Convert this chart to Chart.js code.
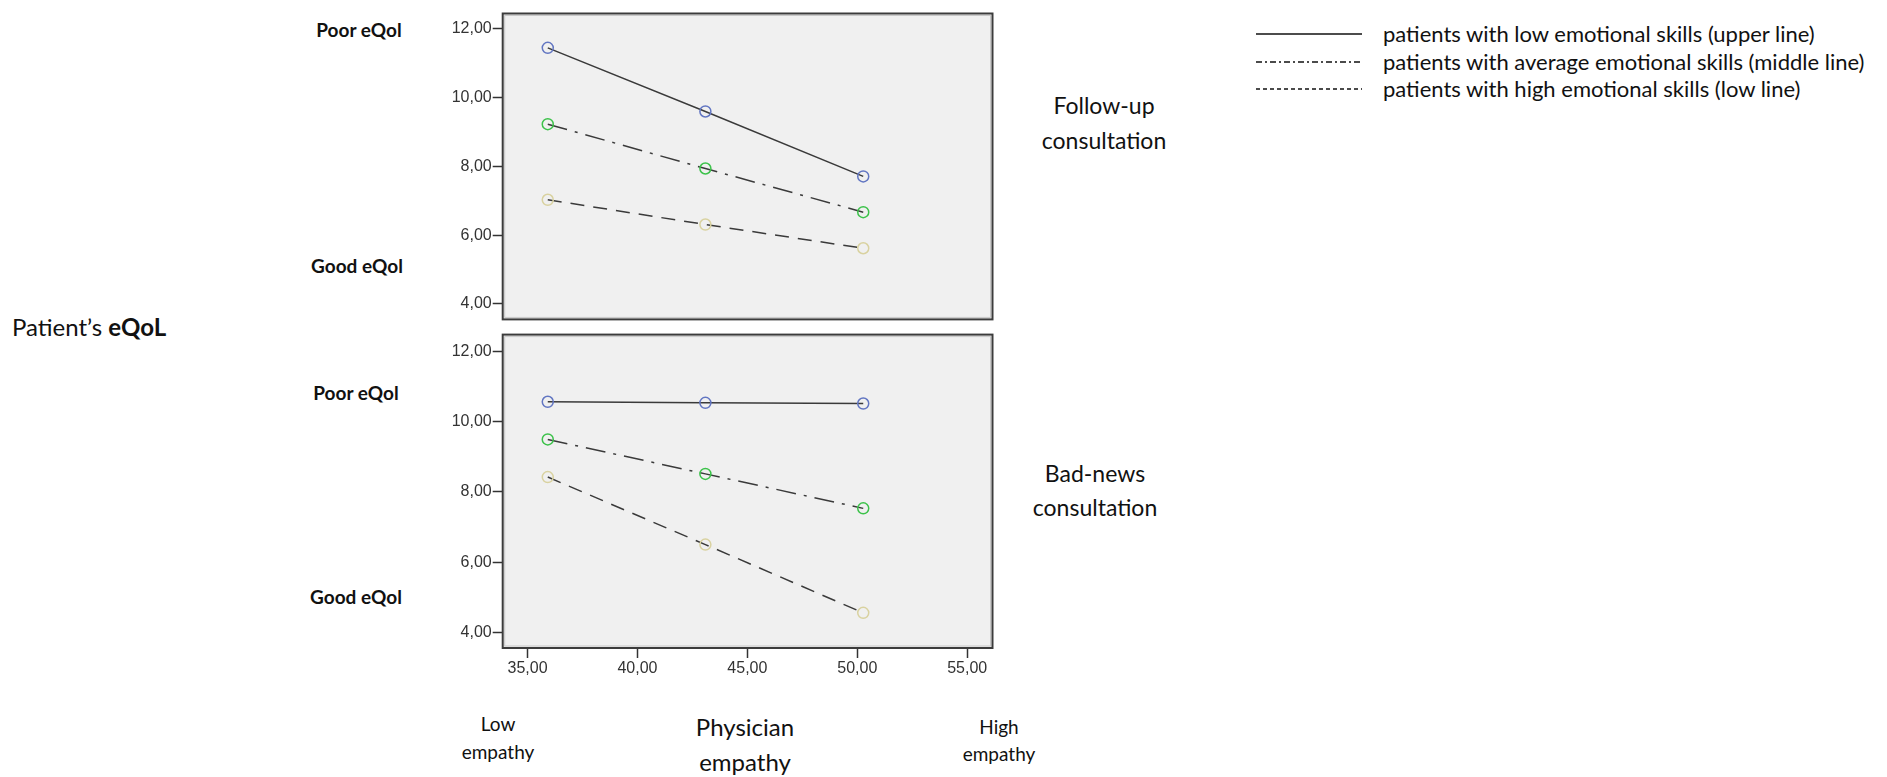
<!DOCTYPE html>
<html>
<head>
<meta charset="utf-8">
<script src="https://cdn.jsdelivr.net/npm/chart.js@4/dist/chart.umd.min.js"></script>
<style>
    html, body { margin: 0; padding: 0; background: #fff; }
    body { width: 1887px; height: 777px; position: relative; overflow: hidden; font-family: Lato, "Open Sans", sans-serif; color: #111; }
    canvas { position: absolute; }
    .lbl { position: absolute; white-space: nowrap; line-height: 1; }
    .c { transform: translate(-50%, -50%); text-align: center; }
    .l { transform: translate(0, -50%); }
    .side { font-weight: bold; font-size: 19px; }
    .panel { font-size: 23px; }
    .legend-text { font-size: 22px; }
    .small { font-size: 19px; }
    .big { font-size: 24px; }
    #legend { position: absolute; left: 1250px; top: 20px; }
</style>
</head>
<body>

<div class="lbl c side" style="left:359px; top:29px;">Poor eQol</div>
<div class="lbl c side" style="left:357px; top:265px;">Good eQol</div>
<div class="lbl c side" style="left:356px; top:392px;">Poor eQol</div>
<div class="lbl c side" style="left:356px; top:596px;">Good eQol</div>

<div class="lbl l" style="left:12px; top:327px; font-size:24px;">Patient’s <b>eQoL</b></div>

<div class="lbl c panel" style="left:1104px; top:105px;">Follow-up</div>
<div class="lbl c panel" style="left:1104px; top:140px;">consultation</div>
<div class="lbl c panel" style="left:1095px; top:473px;">Bad-news</div>
<div class="lbl c panel" style="left:1095px; top:507px;">consultation</div>

<div class="lbl c small" style="left:498px; top:723px;">Low</div>
<div class="lbl c small" style="left:498px; top:751px;">empathy</div>
<div class="lbl c big" style="left:745px; top:727px;">Physician</div>
<div class="lbl c big" style="left:745px; top:762px;">empathy</div>
<div class="lbl c small" style="left:999px; top:726px;">High</div>
<div class="lbl c small" style="left:999px; top:753px;">empathy</div>

<div id="legend"></div>

<canvas id="followChart" width="570" height="330" style="left:430px; top:0px;"></canvas>
<canvas id="badNewsChart" width="570" height="365" style="left:430px; top:324px;"></canvas>

<script>
// Physician empathy at which the lines are evaluated
const empathyX = [35.92, 43.09, 50.27];

// Follow-up consultation
const followLow = [11.45, 9.60, 7.71];
const followAverage = [9.23, 7.94, 6.67];
const followHigh = [7.03, 6.31, 5.62];

// Bad-news consultation
const badLow = [10.56, 10.53, 10.51];
const badAverage = [9.49, 8.51, 7.53];
const badHigh = [8.42, 6.50, 4.56];

const yTicks = [4, 6, 8, 10, 12];
const xTicks = [35, 40, 45, 50, 55];

const seriesNames = [
    'patients with low emotional skills (upper line)',
    'patients with average emotional skills (middle line)',
    'patients with high emotional skills (low line)'
];

const lineDashes = [[], [20, 8, 3, 8], [14, 9]];
const legendDashes = [[], [6, 3, 2, 3], [4, 3]];
const pointColors = ['#6276c2', '#3cc24a', '#d9d2a0'];

document.addEventListener('DOMContentLoaded', function() {
    buildLegend();
    makePanel('followChart', [followLow, followAverage, followHigh], false, [3.55, 12.45]);
    makePanel('badNewsChart', [badLow, badAverage, badHigh], true, [3.56, 12.47]);
});

// Format numbers the way SPSS does: 12,00
function commaFormat(v) {
    return v.toFixed(2).replace('.', ',');
}

// Grey plot area with a dark frame
const panelFrame = {
    id: 'panelFrame',
    beforeDraw(chart) {
        const a = chart.chartArea;
        const ctx = chart.ctx;
        ctx.save();
        ctx.fillStyle = '#f0f0f0';
        ctx.fillRect(a.left, a.top, a.right - a.left, a.bottom - a.top);
        ctx.restore();
    },
    beforeDatasetsDraw(chart) {
        const a = chart.chartArea;
        const ctx = chart.ctx;
        ctx.save();
        ctx.strokeStyle = '#c8c8c8';
        ctx.lineWidth = 1;
        ctx.strokeRect(a.left + 2, a.top + 2, a.right - a.left - 4, a.bottom - a.top - 4);
        ctx.strokeStyle = '#3c3c3c';
        ctx.lineWidth = 2;
        ctx.strokeRect(a.left, a.top, a.right - a.left, a.bottom - a.top);
        ctx.restore();
    }
};

function makePanel(canvasId, series, showX, yRange) {
    const ctx = document.getElementById(canvasId).getContext('2d');
    const datasets = series.map((vals, i) => ({
        label: seriesNames[i],
        data: vals.map((v, j) => ({ x: empathyX[j], y: v })),
        showLine: true,
        borderColor: '#3a3a3a',
        borderWidth: 1.5,
        borderDash: lineDashes[i],
        pointRadius: 5.5,
        pointHoverRadius: 5.5,
        pointBorderWidth: 1.5,
        pointBorderColor: pointColors[i],
        pointBackgroundColor: 'rgba(0,0,0,0)',
        pointStyle: 'circle'
    }));

    new Chart(ctx, {
        type: 'scatter',
        data: { datasets: datasets },
        options: {
            responsive: false,
            animation: false,
            layout: {
                padding: { top: showX ? 9.5 : 13.5, right: 7.5, bottom: showX ? 0 : 5, left: 0 }
            },
            plugins: {
                legend: { display: false },
                tooltip: { enabled: false }
            },
            scales: {
                x: {
                    type: 'linear',
                    min: 33.87,
                    max: 56.15,
                    display: showX,
                    afterBuildTicks: function(scale) {
                        scale.ticks = xTicks.map(v => ({ value: v }));
                    },
                    afterFit: function(scale) {
                        scale.height = showX ? 41 : 0;
                    },
                    border: { display: false },
                    grid: {
                        drawOnChartArea: false,
                        drawTicks: true,
                        tickLength: 10,
                        tickColor: '#333',
                        tickWidth: 1.5
                    },
                    ticks: {
                        padding: 1,
                        color: '#333',
                        font: { family: 'Liberation Sans', size: 16 },
                        callback: commaFormat
                    }
                },
                y: {
                    type: 'linear',
                    min: yRange[0],
                    max: yRange[1],
                    afterBuildTicks: function(scale) {
                        scale.ticks = yTicks.map(v => ({ value: v }));
                    },
                    afterFit: function(scale) {
                        scale.width = 72.7;
                    },
                    border: { display: false },
                    grid: {
                        drawOnChartArea: false,
                        drawTicks: true,
                        tickLength: 10,
                        tickColor: '#333',
                        tickWidth: 1.5
                    },
                    ticks: {
                        padding: 1,
                        color: '#333',
                        font: { family: 'Liberation Sans', size: 16 },
                        callback: commaFormat
                    }
                }
            }
        },
        plugins: [panelFrame]
    });
}

// Legend on the right: a line sample and the series name
function buildLegend() {
    const legend = document.getElementById('legend');
    seriesNames.forEach((name, i) => {
        const row = document.createElement('div');
        row.style.cssText = 'position:absolute; left:0; top:' + (i * 27.7) + 'px; height:28px; width:640px;';
        const svg = '<svg width="110" height="28" style="position:absolute; left:6px; top:0;">' +
            '<line x1="0" y1="14" x2="106" y2="14" stroke="#111" stroke-width="1.3" stroke-dasharray="' +
            (legendDashes[i].length ? legendDashes[i].join(',') : 'none') + '"/></svg>';
        row.innerHTML = svg + '<span class="legend-text" style="position:absolute; left:133px; top:14px; line-height:1; transform:translateY(-50%);">' + name + '</span>';
        legend.appendChild(row);
    });
}
</script>
</body>
</html>
